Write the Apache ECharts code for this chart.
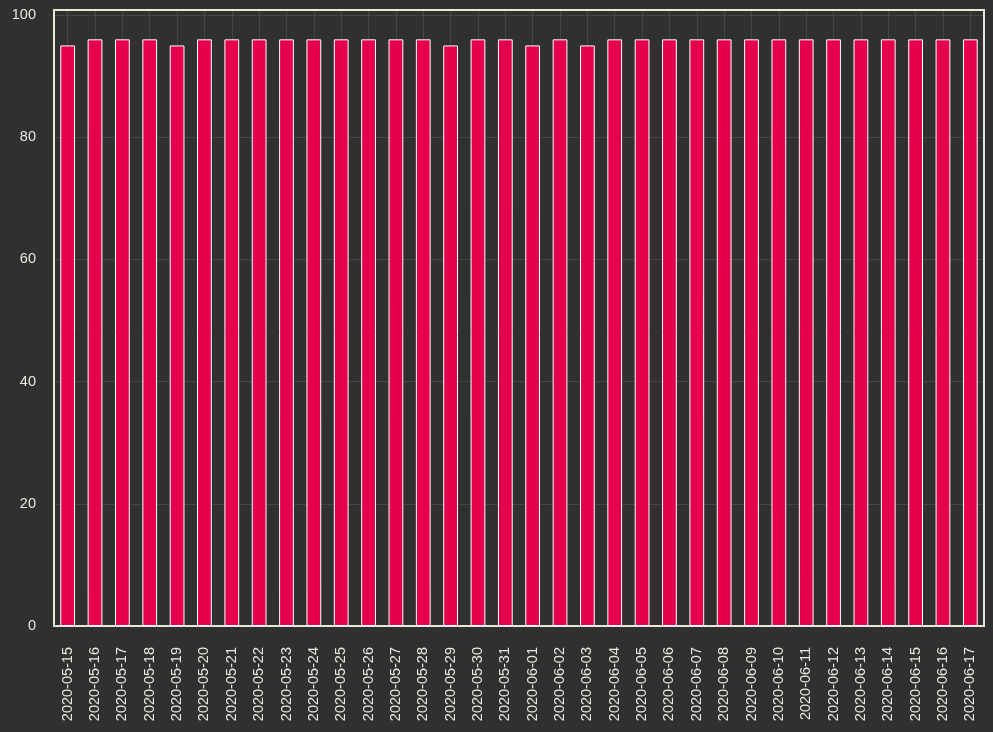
<!DOCTYPE html>
<html><head><meta charset="utf-8">
<script src="https://cdn.jsdelivr.net/npm/echarts@6/dist/echarts.min.js"></script>
<style>html,body{margin:0;padding:0;background:#303030;}#c{width:993px;height:732px;}</style>
</head><body><div id="c"></div>
<script>
const categories = ["2020-05-15","2020-05-16","2020-05-17","2020-05-18","2020-05-19","2020-05-20","2020-05-21","2020-05-22","2020-05-23","2020-05-24","2020-05-25","2020-05-26","2020-05-27","2020-05-28","2020-05-29","2020-05-30","2020-05-31","2020-06-01","2020-06-02","2020-06-03","2020-06-04","2020-06-05","2020-06-06","2020-06-07","2020-06-08","2020-06-09","2020-06-10","2020-06-11","2020-06-12","2020-06-13","2020-06-14","2020-06-15","2020-06-16","2020-06-17"];
const values = [95,96,96,96,95,96,96,96,96,96,96,96,96,96,95,96,96,95,96,95,96,96,96,96,96,96,96,96,96,96,96,96,96,96];
const yTicks = [0,20,40,60,80,100];

// helper axis: half-category slots so split lines fall on bar centres
const halfSlots = [];
for (let k = 0; k <= categories.length * 2; k++) halfSlots.push('');

const chart = echarts.init(document.getElementById('c'), null, {renderer:'canvas'});
const textColor = '#e8e8e0';
const font = 'Liberation Sans, Arial, sans-serif';
const gridColor = 'rgba(255,255,255,0.1)';
chart.setOption({
  backgroundColor: '#303030',
  animation: false,
  grid: {left: 54, right: 9, top: 10, bottom: 106, show: true, borderColor: '#e8e6da', borderWidth: 2, backgroundColor: '#303030'},
  xAxis: [{
    type: 'category', data: categories, boundaryGap: true,
    axisLine: {show: false}, axisTick: {show: false},
    axisLabel: {rotate: 90, color: textColor, fontSize: 14.5, fontFamily: font, margin: 21, interval: 0},
    splitLine: {show: false}
  }, {
    type: 'category', data: halfSlots, boundaryGap: false, position: 'bottom',
    axisLine: {show: false}, axisTick: {show: false}, axisLabel: {show: false},
    splitLine: {show: true, interval: (i) => i % 2 === 1, lineStyle: {color: gridColor, width: 1}}
  }],
  yAxis: {
    type: 'value', min: 0, max: 100.8, interval: 20,
    axisLine: {show: false}, axisTick: {show: false},
    axisLabel: {color: textColor, fontSize: 14.5, fontFamily: font, margin: 18,
      formatter: v => (yTicks.indexOf(v) >= 0 ? String(v) : '')},
    splitLine: {show: true, lineStyle: {color: gridColor, width: 1}}
  },
  series: [{
    type: 'bar', data: values, barWidth: '54%', xAxisIndex: 0,
    itemStyle: {color: '#E6004C', borderColor: '#ffffff', borderWidth: 1}
  }]
});
</script></body></html>
